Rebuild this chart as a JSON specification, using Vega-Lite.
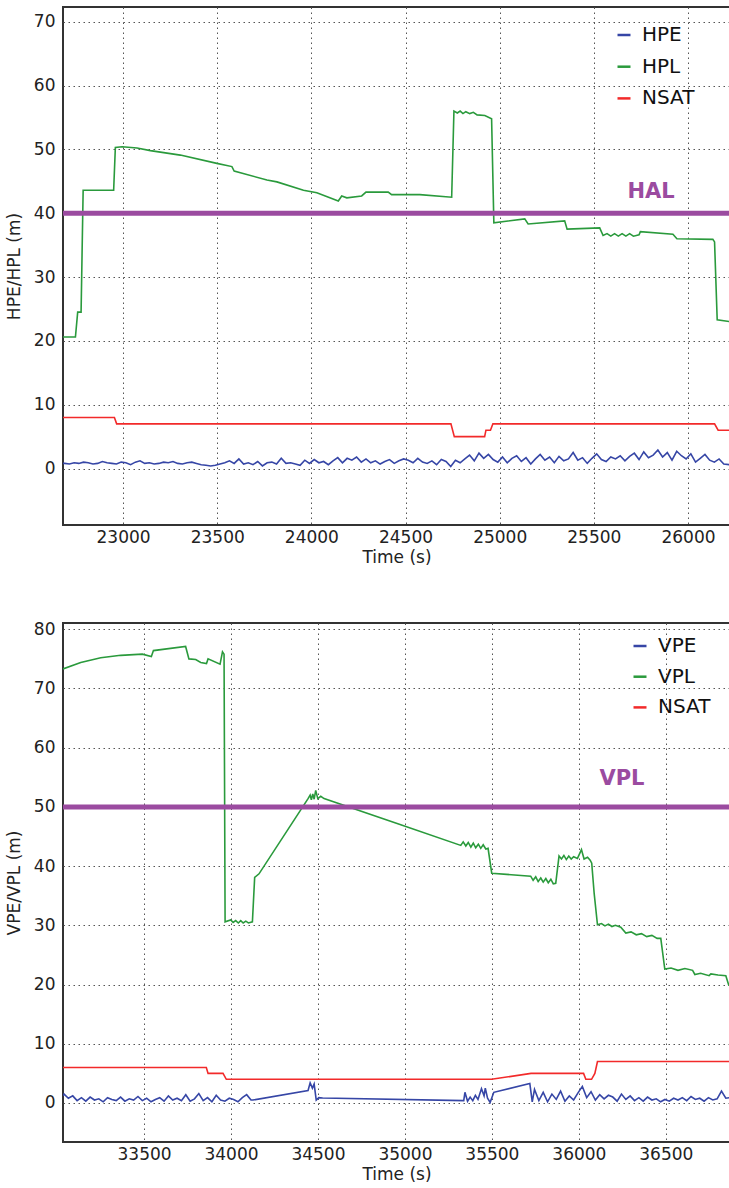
{
"$schema": "https://vega.github.io/schema/vega-lite/v6.json",
"autosize": {"type": "pad"},
"padding": {"left": 4, "top": 6, "right": 0, "bottom": 0},
"background": "white",
"bounds": "flush",
"spacing": 98,
"config": {
  "view": {"stroke": "#333", "strokeWidth": 2},
  "font": "DejaVu Sans",
  "axis": {"labelFont": "DejaVu Sans", "titleFont": "DejaVu Sans", "labelFontSize": 17, "titleFontSize": 17, "titleFontWeight": "normal", "labelColor": "#222", "titleColor": "#222", "gridColor": "#555", "gridDash": [1.5, 3.5], "gridWidth": 1, "domain": false, "ticks": false},
  "legend": {"padding": 0}
},
"datasets": {
"top": [
{"s":"HPE","t":22681,"v":0.8},{"s":"HPE","t":22690,"v":0.8},{"s":"HPE","t":22715,"v":0.7},{"s":"HPE","t":22740,"v":0.9},{"s":"HPE","t":22765,"v":0.8},{"s":"HPE","t":22790,"v":1.0},{"s":"HPE","t":22815,"v":0.9},{"s":"HPE","t":22840,"v":0.7},{"s":"HPE","t":22865,"v":0.8},{"s":"HPE","t":22890,"v":1.1},{"s":"HPE","t":22915,"v":0.9},{"s":"HPE","t":22940,"v":0.8},{"s":"HPE","t":22965,"v":0.7},{"s":"HPE","t":22990,"v":1.0},{"s":"HPE","t":23015,"v":0.9},{"s":"HPE","t":23040,"v":0.6},{"s":"HPE","t":23065,"v":1.0},{"s":"HPE","t":23090,"v":1.2},{"s":"HPE","t":23115,"v":0.8},{"s":"HPE","t":23140,"v":0.9},{"s":"HPE","t":23165,"v":0.7},{"s":"HPE","t":23190,"v":0.8},{"s":"HPE","t":23215,"v":1.0},{"s":"HPE","t":23240,"v":0.9},{"s":"HPE","t":23265,"v":1.1},{"s":"HPE","t":23290,"v":0.8},{"s":"HPE","t":23315,"v":0.7},{"s":"HPE","t":23340,"v":0.9},{"s":"HPE","t":23365,"v":1.0},{"s":"HPE","t":23390,"v":0.8},{"s":"HPE","t":23415,"v":0.6},{"s":"HPE","t":23440,"v":0.5},{"s":"HPE","t":23465,"v":0.4},
{"s":"HPE","t":23490,"v":0.5},{"s":"HPE","t":23515,"v":0.7},{"s":"HPE","t":23540,"v":0.9},{"s":"HPE","t":23565,"v":1.2},{"s":"HPE","t":23590,"v":0.8},{"s":"HPE","t":23615,"v":1.5},{"s":"HPE","t":23640,"v":0.7},{"s":"HPE","t":23665,"v":0.9},{"s":"HPE","t":23690,"v":0.6},{"s":"HPE","t":23715,"v":1.1},{"s":"HPE","t":23740,"v":0.4},{"s":"HPE","t":23765,"v":0.9},{"s":"HPE","t":23790,"v":1.0},{"s":"HPE","t":23815,"v":0.7},{"s":"HPE","t":23840,"v":1.6},{"s":"HPE","t":23865,"v":0.8},{"s":"HPE","t":23890,"v":0.9},{"s":"HPE","t":23915,"v":0.7},{"s":"HPE","t":23940,"v":0.5},{"s":"HPE","t":23965,"v":1.3},
{"s":"HPE","t":23990,"v":0.8},{"s":"HPE","t":24015,"v":1.4},{"s":"HPE","t":24040,"v":0.9},{"s":"HPE","t":24065,"v":1.1},{"s":"HPE","t":24090,"v":0.6},{"s":"HPE","t":24115,"v":1.2},{"s":"HPE","t":24140,"v":1.7},{"s":"HPE","t":24165,"v":0.9},{"s":"HPE","t":24190,"v":1.6},{"s":"HPE","t":24215,"v":1.3},{"s":"HPE","t":24240,"v":1.8},{"s":"HPE","t":24265,"v":1.0},{"s":"HPE","t":24290,"v":1.5},{"s":"HPE","t":24315,"v":0.9},{"s":"HPE","t":24340,"v":1.2},{"s":"HPE","t":24365,"v":0.7},{"s":"HPE","t":24390,"v":1.1},{"s":"HPE","t":24415,"v":1.4},{"s":"HPE","t":24440,"v":0.8},{"s":"HPE","t":24465,"v":1.2},
{"s":"HPE","t":24490,"v":1.5},{"s":"HPE","t":24515,"v":1.3},{"s":"HPE","t":24540,"v":0.9},{"s":"HPE","t":24565,"v":1.6},{"s":"HPE","t":24590,"v":1.0},{"s":"HPE","t":24615,"v":0.8},{"s":"HPE","t":24640,"v":1.2},{"s":"HPE","t":24665,"v":0.6},{"s":"HPE","t":24690,"v":1.4},{"s":"HPE","t":24715,"v":1.1},{"s":"HPE","t":24740,"v":0.3},{"s":"HPE","t":24765,"v":1.3},{"s":"HPE","t":24790,"v":0.9},{"s":"HPE","t":24815,"v":1.5},{"s":"HPE","t":24840,"v":2.1},{"s":"HPE","t":24865,"v":1.2},{"s":"HPE","t":24890,"v":2.4},{"s":"HPE","t":24915,"v":1.6},{"s":"HPE","t":24940,"v":2.2},{"s":"HPE","t":24965,"v":1.4},
{"s":"HPE","t":24990,"v":1.0},{"s":"HPE","t":25015,"v":1.8},{"s":"HPE","t":25040,"v":0.9},{"s":"HPE","t":25065,"v":1.6},{"s":"HPE","t":25090,"v":2.0},{"s":"HPE","t":25115,"v":1.1},{"s":"HPE","t":25140,"v":1.7},{"s":"HPE","t":25165,"v":0.7},{"s":"HPE","t":25190,"v":1.5},{"s":"HPE","t":25215,"v":2.2},{"s":"HPE","t":25240,"v":1.3},{"s":"HPE","t":25265,"v":1.8},{"s":"HPE","t":25290,"v":0.9},{"s":"HPE","t":25315,"v":1.9},{"s":"HPE","t":25340,"v":1.2},{"s":"HPE","t":25365,"v":1.5},{"s":"HPE","t":25390,"v":2.5},{"s":"HPE","t":25415,"v":1.3},{"s":"HPE","t":25440,"v":1.7},{"s":"HPE","t":25465,"v":0.8},{"s":"HPE","t":25490,"v":1.6},{"s":"HPE","t":25515,"v":2.3},{"s":"HPE","t":25540,"v":1.4},{"s":"HPE","t":25565,"v":1.1},{"s":"HPE","t":25590,"v":1.8},{"s":"HPE","t":25615,"v":1.5},{"s":"HPE","t":25640,"v":2.0},{"s":"HPE","t":25665,"v":1.2},{"s":"HPE","t":25690,"v":1.9},{"s":"HPE","t":25715,"v":2.4},{"s":"HPE","t":25740,"v":1.4},{"s":"HPE","t":25765,"v":2.6},{"s":"HPE","t":25790,"v":1.7},{"s":"HPE","t":25815,"v":2.1},{"s":"HPE","t":25840,"v":2.9},{"s":"HPE","t":25865,"v":1.8},{"s":"HPE","t":25890,"v":2.5},{"s":"HPE","t":25915,"v":1.3},{"s":"HPE","t":25940,"v":2.7},{"s":"HPE","t":25965,"v":2.0},{"s":"HPE","t":25990,"v":1.5},{"s":"HPE","t":26015,"v":2.3},{"s":"HPE","t":26040,"v":1.0},{"s":"HPE","t":26065,"v":1.6},{"s":"HPE","t":26090,"v":2.2},{"s":"HPE","t":26115,"v":1.3},{"s":"HPE","t":26140,"v":1.0},{"s":"HPE","t":26165,"v":1.5},{"s":"HPE","t":26190,"v":0.7},{"s":"HPE","t":26223,"v":0.6},
{"s":"HPL","t":22681,"v":20.6},{"s":"HPL","t":22747,"v":20.6},{"s":"HPL","t":22759,"v":24.5},{"s":"HPL","t":22777,"v":24.5},{"s":"HPL","t":22788,"v":43.6},{"s":"HPL","t":22950,"v":43.6},{"s":"HPL","t":22959,"v":50.3},{"s":"HPL","t":22995,"v":50.4},{"s":"HPL","t":23074,"v":50.2},{"s":"HPL","t":23145,"v":49.8},{"s":"HPL","t":23304,"v":49.1},{"s":"HPL","t":23498,"v":47.8},{"s":"HPL","t":23578,"v":47.3},{"s":"HPL","t":23590,"v":46.6},{"s":"HPL","t":23764,"v":45.2},{"s":"HPL","t":23817,"v":44.9},{"s":"HPL","t":23958,"v":43.6},{"s":"HPL","t":24029,"v":43.2},{"s":"HPL","t":24143,"v":41.9},{"s":"HPL","t":24161,"v":42.7},{"s":"HPL","t":24188,"v":42.4},{"s":"HPL","t":24267,"v":42.7},{"s":"HPL","t":24290,"v":43.3},{"s":"HPL","t":24408,"v":43.3},{"s":"HPL","t":24426,"v":42.9},{"s":"HPL","t":24576,"v":42.9},{"s":"HPL","t":24745,"v":42.5},{"s":"HPL","t":24757,"v":56.0},{"s":"HPL","t":24775,"v":55.7},{"s":"HPL","t":24790,"v":56.0},{"s":"HPL","t":24805,"v":55.6},{"s":"HPL","t":24820,"v":55.9},{"s":"HPL","t":24841,"v":55.6},{"s":"HPL","t":24860,"v":55.8},{"s":"HPL","t":24880,"v":55.4},{"s":"HPL","t":24921,"v":55.3},{"s":"HPL","t":24957,"v":54.8},{"s":"HPL","t":24969,"v":38.5},{"s":"HPL","t":25133,"v":39.1},{"s":"HPL","t":25151,"v":38.3},{"s":"HPL","t":25345,"v":38.8},{"s":"HPL","t":25358,"v":37.5},{"s":"HPL","t":25531,"v":37.7},{"s":"HPL","t":25549,"v":36.5},{"s":"HPL","t":25570,"v":36.8},{"s":"HPL","t":25590,"v":36.4},{"s":"HPL","t":25610,"v":36.8},{"s":"HPL","t":25630,"v":36.4},{"s":"HPL","t":25650,"v":36.8},{"s":"HPL","t":25670,"v":36.4},{"s":"HPL","t":25690,"v":36.8},{"s":"HPL","t":25710,"v":36.4},{"s":"HPL","t":25740,"v":36.6},{"s":"HPL","t":25747,"v":37.1},{"s":"HPL","t":25920,"v":36.7},{"s":"HPL","t":25941,"v":36.0},{"s":"HPL","t":26132,"v":35.9},{"s":"HPL","t":26141,"v":35.5},{"s":"HPL","t":26155,"v":23.3},{"s":"HPL","t":26223,"v":23.0},
{"s":"NSAT","t":22681,"v":8},{"s":"NSAT","t":22954,"v":8},{"s":"NSAT","t":22966,"v":7},{"s":"NSAT","t":24741,"v":7},{"s":"NSAT","t":24759,"v":5},{"s":"NSAT","t":24920,"v":5},{"s":"NSAT","t":24927,"v":6},{"s":"NSAT","t":24951,"v":6},{"s":"NSAT","t":24964,"v":7},{"s":"NSAT","t":26141,"v":7},{"s":"NSAT","t":26160,"v":6},{"s":"NSAT","t":26223,"v":6}
],
"bot": [
{"s":"VPE","t":33034,"v":1.2},{"s":"VPE","t":33040,"v":1.5},{"s":"VPE","t":33065,"v":0.8},{"s":"VPE","t":33090,"v":1.2},{"s":"VPE","t":33115,"v":0.4},{"s":"VPE","t":33140,"v":0.9},{"s":"VPE","t":33165,"v":0.3},{"s":"VPE","t":33190,"v":1.0},{"s":"VPE","t":33215,"v":0.5},{"s":"VPE","t":33240,"v":0.7},{"s":"VPE","t":33265,"v":0.2},{"s":"VPE","t":33290,"v":0.9},{"s":"VPE","t":33315,"v":0.6},{"s":"VPE","t":33340,"v":0.4},{"s":"VPE","t":33365,"v":1.0},{"s":"VPE","t":33390,"v":0.3},{"s":"VPE","t":33415,"v":0.7},{"s":"VPE","t":33440,"v":0.5},{"s":"VPE","t":33465,"v":1.1},{"s":"VPE","t":33490,"v":0.4},{"s":"VPE","t":33515,"v":0.8},{"s":"VPE","t":33540,"v":0.2},{"s":"VPE","t":33565,"v":0.6},{"s":"VPE","t":33590,"v":0.9},{"s":"VPE","t":33615,"v":0.3},{"s":"VPE","t":33640,"v":1.2},{"s":"VPE","t":33665,"v":0.5},{"s":"VPE","t":33690,"v":0.8},{"s":"VPE","t":33715,"v":0.4},{"s":"VPE","t":33740,"v":1.4},{"s":"VPE","t":33765,"v":0.3},{"s":"VPE","t":33790,"v":0.7},{"s":"VPE","t":33815,"v":1.6},{"s":"VPE","t":33840,"v":0.4},{"s":"VPE","t":33865,"v":0.9},{"s":"VPE","t":33890,"v":0.2},{"s":"VPE","t":33915,"v":1.3},{"s":"VPE","t":33940,"v":0.5},{"s":"VPE","t":33965,"v":0.3},{"s":"VPE","t":33990,"v":0.8},{"s":"VPE","t":34015,"v":0.6},{"s":"VPE","t":34040,"v":0.2},{"s":"VPE","t":34065,"v":0.9},{"s":"VPE","t":34090,"v":1.4},{"s":"VPE","t":34115,"v":0.5},
{"s":"VPE","t":34126,"v":0.5},{"s":"VPE","t":34443,"v":2.1},{"s":"VPE","t":34455,"v":3.4},{"s":"VPE","t":34468,"v":2.5},{"s":"VPE","t":34478,"v":3.2},{"s":"VPE","t":34490,"v":0.5},{"s":"VPE","t":34505,"v":0.9},{"s":"VPE","t":34527,"v":0.85},{"s":"VPE","t":35338,"v":0.4},{"s":"VPE","t":35345,"v":1.8},{"s":"VPE","t":35360,"v":0.3},{"s":"VPE","t":35375,"v":1.0},{"s":"VPE","t":35390,"v":0.4},{"s":"VPE","t":35405,"v":1.3},{"s":"VPE","t":35420,"v":0.6},{"s":"VPE","t":35440,"v":2.4},{"s":"VPE","t":35455,"v":1.2},{"s":"VPE","t":35462,"v":2.5},{"s":"VPE","t":35475,"v":0.8},{"s":"VPE","t":35490,"v":0.1},{"s":"VPE","t":35511,"v":1.8},{"s":"VPE","t":35718,"v":3.3},{"s":"VPE","t":35732,"v":0.2},
{"s":"VPE","t":35745,"v":2.3},{"s":"VPE","t":35770,"v":0.4},{"s":"VPE","t":35795,"v":1.8},{"s":"VPE","t":35820,"v":0.2},{"s":"VPE","t":35845,"v":1.5},{"s":"VPE","t":35870,"v":0.6},{"s":"VPE","t":35895,"v":2.0},{"s":"VPE","t":35920,"v":0.3},{"s":"VPE","t":35945,"v":1.2},{"s":"VPE","t":35970,"v":0.5},{"s":"VPE","t":35995,"v":1.7},{"s":"VPE","t":36020,"v":2.8},{"s":"VPE","t":36045,"v":0.9},{"s":"VPE","t":36070,"v":1.9},{"s":"VPE","t":36095,"v":0.5},{"s":"VPE","t":36120,"v":1.4},{"s":"VPE","t":36145,"v":0.7},{"s":"VPE","t":36170,"v":1.3},{"s":"VPE","t":36195,"v":1.0},{"s":"VPE","t":36220,"v":0.3},{"s":"VPE","t":36245,"v":1.5},{"s":"VPE","t":36270,"v":0.6},{"s":"VPE","t":36295,"v":1.2},{"s":"VPE","t":36320,"v":0.4},{"s":"VPE","t":36345,"v":0.9},{"s":"VPE","t":36370,"v":0.3},{"s":"VPE","t":36395,"v":1.0},{"s":"VPE","t":36420,"v":0.5},{"s":"VPE","t":36445,"v":0.7},{"s":"VPE","t":36470,"v":0.2},{"s":"VPE","t":36495,"v":0.6},{"s":"VPE","t":36520,"v":0.3},{"s":"VPE","t":36545,"v":0.8},{"s":"VPE","t":36570,"v":0.5},{"s":"VPE","t":36595,"v":0.9},{"s":"VPE","t":36620,"v":0.4},{"s":"VPE","t":36645,"v":1.1},{"s":"VPE","t":36670,"v":0.6},{"s":"VPE","t":36695,"v":0.8},{"s":"VPE","t":36720,"v":0.3},{"s":"VPE","t":36745,"v":0.9},{"s":"VPE","t":36770,"v":0.5},{"s":"VPE","t":36795,"v":0.7},{"s":"VPE","t":36820,"v":2.0},{"s":"VPE","t":36845,"v":0.8},{"s":"VPE","t":36869,"v":0.9},
{"s":"VPL","t":33034,"v":73.3},{"s":"VPL","t":33136,"v":74.4},{"s":"VPL","t":33251,"v":75.2},{"s":"VPL","t":33366,"v":75.6},{"s":"VPL","t":33490,"v":75.8},{"s":"VPL","t":33542,"v":75.4},{"s":"VPL","t":33554,"v":76.4},{"s":"VPL","t":33739,"v":77.1},{"s":"VPL","t":33758,"v":75.0},{"s":"VPL","t":33797,"v":74.9},{"s":"VPL","t":33826,"v":74.4},{"s":"VPL","t":33859,"v":74.2},{"s":"VPL","t":33868,"v":75.0},{"s":"VPL","t":33937,"v":74.1},{"s":"VPL","t":33951,"v":76.2},{"s":"VPL","t":33960,"v":75.8},{"s":"VPL","t":33966,"v":30.6},{"s":"VPL","t":33998,"v":30.9},{"s":"VPL","t":34012,"v":30.5},{"s":"VPL","t":34027,"v":30.8},{"s":"VPL","t":34042,"v":30.4},{"s":"VPL","t":34056,"v":30.8},{"s":"VPL","t":34070,"v":30.4},{"s":"VPL","t":34085,"v":30.7},{"s":"VPL","t":34100,"v":30.4},{"s":"VPL","t":34123,"v":30.6},{"s":"VPL","t":34136,"v":38.1},{"s":"VPL","t":34161,"v":38.7},{"s":"VPL","t":34443,"v":51.4},{"s":"VPL","t":34455,"v":52.0},{"s":"VPL","t":34462,"v":51.2},{"s":"VPL","t":34470,"v":52.2},{"s":"VPL","t":34478,"v":51.3},{"s":"VPL","t":34487,"v":52.8},{"s":"VPL","t":34499,"v":51.4},{"s":"VPL","t":34516,"v":51.8},{"s":"VPL","t":34535,"v":51.4},{"s":"VPL","t":34976,"v":47.0},{"s":"VPL","t":35321,"v":43.5},{"s":"VPL","t":35335,"v":44.1},{"s":"VPL","t":35350,"v":43.4},{"s":"VPL","t":35364,"v":44.0},{"s":"VPL","t":35379,"v":43.2},{"s":"VPL","t":35393,"v":43.9},{"s":"VPL","t":35407,"v":43.1},{"s":"VPL","t":35422,"v":43.7},{"s":"VPL","t":35436,"v":43.0},{"s":"VPL","t":35450,"v":43.6},{"s":"VPL","t":35465,"v":42.9},{"s":"VPL","t":35478,"v":43.0},{"s":"VPL","t":35499,"v":38.8},{"s":"VPL","t":35723,"v":38.3},{"s":"VPL","t":35737,"v":37.6},{"s":"VPL","t":35752,"v":38.2},{"s":"VPL","t":35766,"v":37.4},{"s":"VPL","t":35781,"v":38.0},{"s":"VPL","t":35795,"v":37.3},{"s":"VPL","t":35810,"v":37.9},{"s":"VPL","t":35824,"v":37.2},{"s":"VPL","t":35839,"v":37.8},{"s":"VPL","t":35853,"v":37.0},{"s":"VPL","t":35867,"v":37.1},{"s":"VPL","t":35886,"v":41.7},{"s":"VPL","t":35900,"v":41.2},{"s":"VPL","t":35914,"v":41.8},{"s":"VPL","t":35928,"v":41.1},{"s":"VPL","t":35942,"v":41.7},{"s":"VPL","t":35956,"v":41.2},{"s":"VPL","t":35970,"v":41.6},{"s":"VPL","t":35992,"v":41.3},{"s":"VPL","t":36015,"v":42.8},{"s":"VPL","t":36030,"v":41.2},{"s":"VPL","t":36050,"v":41.5},{"s":"VPL","t":36065,"v":41.0},{"s":"VPL","t":36074,"v":40.5},{"s":"VPL","t":36088,"v":35.4},{"s":"VPL","t":36107,"v":30.1},{"s":"VPL","t":36130,"v":30.3},{"s":"VPL","t":36150,"v":29.9},{"s":"VPL","t":36170,"v":30.2},{"s":"VPL","t":36190,"v":29.8},{"s":"VPL","t":36210,"v":30.0},{"s":"VPL","t":36241,"v":29.7},{"s":"VPL","t":36270,"v":28.7},{"s":"VPL","t":36300,"v":28.9},{"s":"VPL","t":36330,"v":28.4},{"s":"VPL","t":36360,"v":28.6},{"s":"VPL","t":36390,"v":28.1},{"s":"VPL","t":36420,"v":28.3},{"s":"VPL","t":36450,"v":27.8},{"s":"VPL","t":36471,"v":27.8},{"s":"VPL","t":36494,"v":22.6},{"s":"VPL","t":36530,"v":22.8},{"s":"VPL","t":36570,"v":22.4},{"s":"VPL","t":36610,"v":22.7},{"s":"VPL","t":36654,"v":22.4},{"s":"VPL","t":36667,"v":21.7},{"s":"VPL","t":36700,"v":21.9},{"s":"VPL","t":36749,"v":21.5},{"s":"VPL","t":36759,"v":21.8},{"s":"VPL","t":36800,"v":21.6},{"s":"VPL","t":36845,"v":21.5},{"s":"VPL","t":36863,"v":19.8},
{"s":"NSAT","t":33034,"v":6},{"s":"NSAT","t":33858,"v":6},{"s":"NSAT","t":33868,"v":5},{"s":"NSAT","t":33954,"v":5},{"s":"NSAT","t":33973,"v":4},{"s":"NSAT","t":35498,"v":4},{"s":"NSAT","t":35725,"v":5},{"s":"NSAT","t":36027,"v":5},{"s":"NSAT","t":36040,"v":4},{"s":"NSAT","t":36073,"v":4},{"s":"NSAT","t":36092,"v":5},{"s":"NSAT","t":36107,"v":7},{"s":"NSAT","t":36869,"v":7}
]
},
"vconcat": [
{
 "width": 667, "height": 518,
 "layer": [
  {"data": {"name": "top"}, "mark": {"type": "line", "strokeWidth": 1.6, "clip": true},
   "encoding": {
    "x": {"field": "t", "type": "quantitative", "title": "Time (s)", "scale": {"domain": [22681, 26223], "nice": false, "zero": false},
          "axis": {"values": [23000, 23500, 24000, 24500, 25000, 25500, 26000], "format": "d", "labelPadding": 4, "titlePadding": 4}},
    "y": {"field": "v", "type": "quantitative", "title": "HPE/HPL (m)", "scale": {"domain": [-8.85, 72.3], "nice": false, "zero": false},
          "axis": {"values": [0, 10, 20, 30, 40, 50, 60, 70], "labelPadding": 8, "titlePadding": 10}},
    "color": {"field": "s", "type": "nominal", "scale": {"domain": ["HPE", "HPL", "NSAT"], "range": ["#3646a6", "#2a9a3c", "#f22a2a"]},
          "legend": {"title": null, "orient": "none", "legendX": 551, "legendY": 18, "symbolType": "stroke", "symbolSize": 169, "symbolStrokeWidth": 2.5, "labelFontSize": 20, "labelFont": "DejaVu Sans", "labelColor": "#111", "rowPadding": 11.7, "labelOffset": 8, "padding": 0}}
   }},
  {"data": {"values": [{"v": 40}]}, "mark": {"type": "rule", "color": "#9b4ba0", "strokeWidth": 5},
   "encoding": {"y": {"field": "v", "type": "quantitative", "title": "HPE/HPL (m)", "scale": {"domain": [-8.85, 72.3], "nice": false, "zero": false}}}},
  {"data": {"values": [{"t": 25804, "v": 43.3, "label": "HAL"}]}, "mark": {"type": "text", "color": "#9b4ba0", "fontSize": 21, "fontWeight": "bold", "font": "DejaVu Sans", "align": "center", "baseline": "middle"},
   "encoding": {"x": {"field": "t", "type": "quantitative", "title": "Time (s)", "scale": {"domain": [22681, 26223], "nice": false, "zero": false}},
                "y": {"field": "v", "type": "quantitative", "title": "HPE/HPL (m)", "scale": {"domain": [-8.85, 72.3], "nice": false, "zero": false}},
                "text": {"field": "label"}}}
 ]
},
{
 "width": 667, "height": 519,
 "layer": [
  {"data": {"name": "bot"}, "mark": {"type": "line", "strokeWidth": 1.6, "clip": true},
   "encoding": {
    "x": {"field": "t", "type": "quantitative", "title": "Time (s)", "scale": {"domain": [33034, 36869], "nice": false, "zero": false},
          "axis": {"values": [33500, 34000, 34500, 35000, 35500, 36000, 36500], "format": "d", "labelPadding": 4, "titlePadding": 4}},
    "y": {"field": "v", "type": "quantitative", "title": "VPE/VPL (m)", "scale": {"domain": [-6.59, 81.06], "nice": false, "zero": false},
          "axis": {"values": [0, 10, 20, 30, 40, 50, 60, 70, 80], "labelPadding": 8, "titlePadding": 10}},
    "color": {"field": "s", "type": "nominal", "scale": {"domain": ["VPE", "VPL", "NSAT"], "range": ["#3646a6", "#2a9a3c", "#f22a2a"]},
          "legend": {"title": null, "orient": "none", "legendX": 567, "legendY": 13, "symbolType": "stroke", "symbolSize": 169, "symbolStrokeWidth": 2.5, "labelFontSize": 20, "labelFont": "DejaVu Sans", "labelColor": "#111", "rowPadding": 10.7, "labelOffset": 8, "padding": 0}}
   }},
  {"data": {"values": [{"v": 50}]}, "mark": {"type": "rule", "color": "#9b4ba0", "strokeWidth": 5},
   "encoding": {"y": {"field": "v", "type": "quantitative", "title": "VPE/VPL (m)", "scale": {"domain": [-6.59, 81.06], "nice": false, "zero": false}}}},
  {"data": {"values": [{"t": 36248, "v": 54.7, "label": "VPL"}]}, "mark": {"type": "text", "color": "#9b4ba0", "fontSize": 21, "fontWeight": "bold", "font": "DejaVu Sans", "align": "center", "baseline": "middle"},
   "encoding": {"x": {"field": "t", "type": "quantitative", "title": "Time (s)", "scale": {"domain": [33034, 36869], "nice": false, "zero": false}},
                "y": {"field": "v", "type": "quantitative", "title": "VPE/VPL (m)", "scale": {"domain": [-6.59, 81.06], "nice": false, "zero": false}},
                "text": {"field": "label"}}}
 ]
}
],
"resolve": {"scale": {"color": "independent", "x": "independent", "y": "independent"}, "legend": {"color": "independent"}}
}
